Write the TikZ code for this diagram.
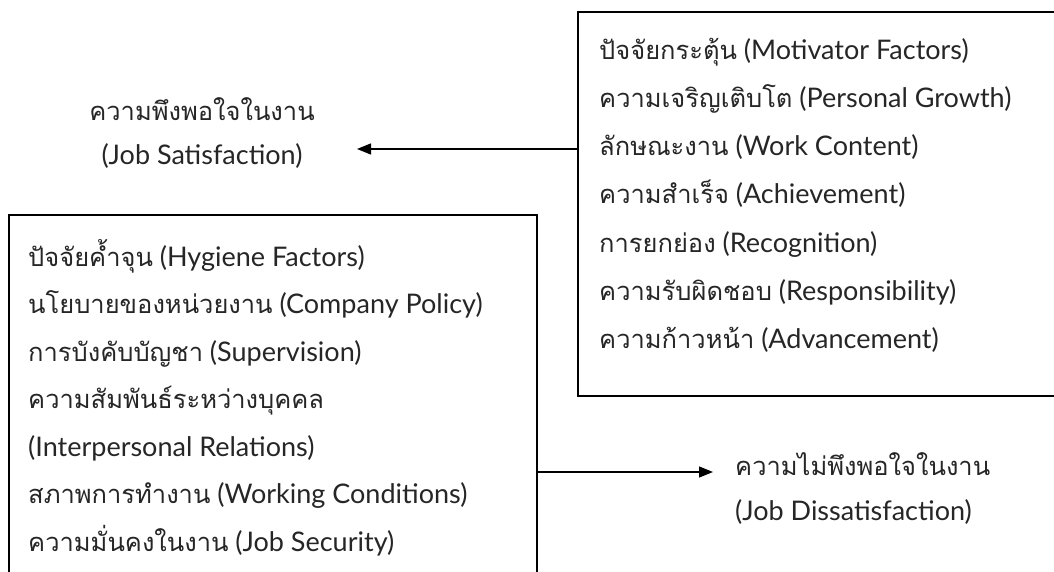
\documentclass[tikz,border=0pt]{standalone}
\usepackage{fontspec}
\setmainfont{Lato}
\newfontfamily\thaifont[Script=Thai]{Loma}
\newcommand{\thtxt}[1]{{\thaifont\fontsize{25.5}{30}\selectfont #1}}
\usetikzlibrary{arrows.meta}
\tikzset{
  boxline/.style={draw=black, line width=1.4pt},
  conn/.style={line width=1.4pt, -{Triangle[length=14pt,width=11pt]}},
  txt/.style={inner sep=0pt, text=black!85, font=\fontsize{27}{30}\selectfont, anchor=base west},
  ctxt/.style={inner sep=0pt, text=black!85, font=\fontsize{27}{30}\selectfont, anchor=base},
}
\begin{document}
\begin{tikzpicture}[x=1pt,y=-1pt]
\clip (0,0) rectangle (1054,572);
\fill[white] (0,0) rectangle (1054,572);
% right box (motivators)
\draw[boxline] (1070,12) -- (578,12) -- (578,396) -- (1070,396);
% left box (hygiene)
\draw[boxline] (9,590) -- (9,215) -- (537,215) -- (537,590);
\coordinate (rsrc) at (578,149);
\coordinate (lsrc) at (537,472);
% motivator texts
\node[txt] (m0) at (599,60)  {\thtxt{ปัจจัยกระตุ้น} (Motivator Factors)};
\node[txt] (m1) at (599,108) {\thtxt{ความเจริญเติบโต} (Personal Growth)};
\node[txt] (m2) at (599,156) {\thtxt{ลักษณะงาน} (Work Content)};
\node[txt] (m3) at (599,204) {\thtxt{ความสำเร็จ} (Achievement)};
\node[txt] (m4) at (599,252) {\thtxt{การยกย่อง} (Recognition)};
\node[txt] (m5) at (599,300) {\thtxt{ความรับผิดชอบ} (Responsibility)};
\node[txt] (m6) at (599,348) {\thtxt{ความก้าวหน้า} (Advancement)};
% hygiene texts
\node[txt] (h0) at (28,266)   {\thtxt{ปัจจัยค้ำจุน} (Hygiene Factors)};
\node[txt] (h1) at (28,313.5) {\thtxt{นโยบายของหน่วยงาน} (Company Policy)};
\node[txt] (h2) at (28,361)   {\thtxt{การบังคับบัญชา} (Supervision)};
\node[txt] (h3) at (28,408.5) {\thtxt{ความสัมพันธ์ระหว่างบุคคล}};
\node[txt] (h4) at (28,456)   {(Interpersonal Relations)};
\node[txt] (h5) at (28,503.5) {\thtxt{สภาพการทำงาน} (Working Conditions)};
\node[txt] (h6) at (28,551)   {\thtxt{ความมั่นคงในงาน} (Job Security)};
% outcomes
\node[ctxt] (sat1) at (202,121) {\thtxt{ความพึงพอใจในงาน}};
\node[ctxt] (sat2) at (202,165) {(Job Satisfaction)};
\node[txt] (dis1) at (735,475) {\thtxt{ความไม่พึงพอใจในงาน}};
\node[txt] (dis2) at (735,520) {(Job Dissatisfaction)};
\coordinate (sattip) at (357,149);
\coordinate (distip) at (713,472);
\draw[conn] (rsrc) -- (sattip);
\draw[conn] (lsrc) -- (distip);
\end{tikzpicture}
\end{document}
